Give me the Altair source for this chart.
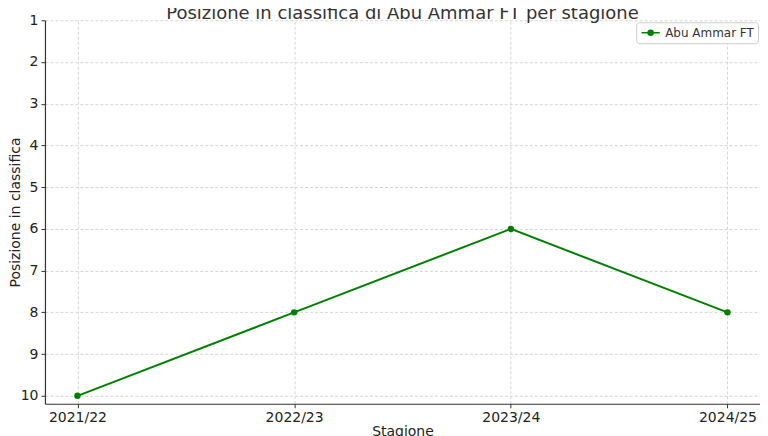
import altair as alt
import pandas as pd

seasons = ["2021/22", "2022/23", "2023/24", "2024/25"]
positions = [10, 8, 6, 8]
team = "Abu Ammar FT"

df = pd.DataFrame({"Stagione": seasons, "Posizione": positions, "Squadra": [team] * len(seasons)})

FONT = "DejaVu Sans"
GREEN = "#008000"

legend_shape = "M-1.6,0L1.6,0M-0.45,0A0.45,0.45 0 1,0 0.45,0A0.45,0.45 0 1,0 -0.45,0Z"

x_enc = alt.X("Stagione:O", sort=seasons, title="Stagione",
              scale=alt.Scale(type="point", padding=0.15),
              axis=alt.Axis(labelAngle=0))
y_enc = alt.Y("Posizione:Q", title="Posizione in classifica",
              scale=alt.Scale(domain=[1, 10.19], reverse=True, nice=False, zero=False),
              axis=alt.Axis(values=list(range(1, 11)), format="d",
                            titleX=-25, titleBaseline="alphabetic"))

color_enc = alt.Color("Squadra:N", scale=alt.Scale(range=[GREEN]),
                      legend=alt.Legend(title=None, orient="none", legendX=592, legendY=2,
                                        symbolType=legend_shape, symbolSize=130,
                                        symbolStrokeWidth=1.5, symbolFillColor=GREEN,
                                        labelFont=FONT, labelFontSize=12, labelColor="#333",
                                        fillColor="white", strokeColor="#cccccc",
                                        cornerRadius=3, padding=4, symbolOffset=4, labelOffset=8))

line = alt.Chart(df).mark_line(strokeWidth=2).encode(x=x_enc, y=y_enc, color=color_enc)
points = alt.Chart(df).mark_point(filled=True, size=42, opacity=1).encode(
    x=x_enc, y=y_enc, color=alt.Color("Squadra:N", scale=alt.Scale(range=[GREEN]), legend=None))

chart = (line + points).properties(
    width=716, height=384,
    title=alt.TitleParams("Posizione in classifica di Abu Ammar FT per stagione",
                          font=FONT, fontSize=18, fontWeight="normal", color="#333",
                          anchor="middle", offset=-10),
    padding={"left": 37, "top": 12, "right": 0, "bottom": 32},
    autosize=alt.AutoSizeParams(type="none"),
).configure_view(stroke=None).configure_axis(
    labelFont=FONT, titleFont=FONT, labelFontSize=14, titleFontSize=14,
    labelColor="#222", titleColor="#222", titleFontWeight="normal",
    domainColor="#333", domainWidth=1.2, tickColor="#333", tickSize=4, tickWidth=1,
    gridColor="#cccccc", gridDash=[3, 2], gridWidth=0.8, grid=True, labelPadding=3,
).configure_axisX(titlePadding=0).configure_axisY(titlePadding=3)

chart.save("out.html", embed_options={"renderer": "svg", "actions": False})
